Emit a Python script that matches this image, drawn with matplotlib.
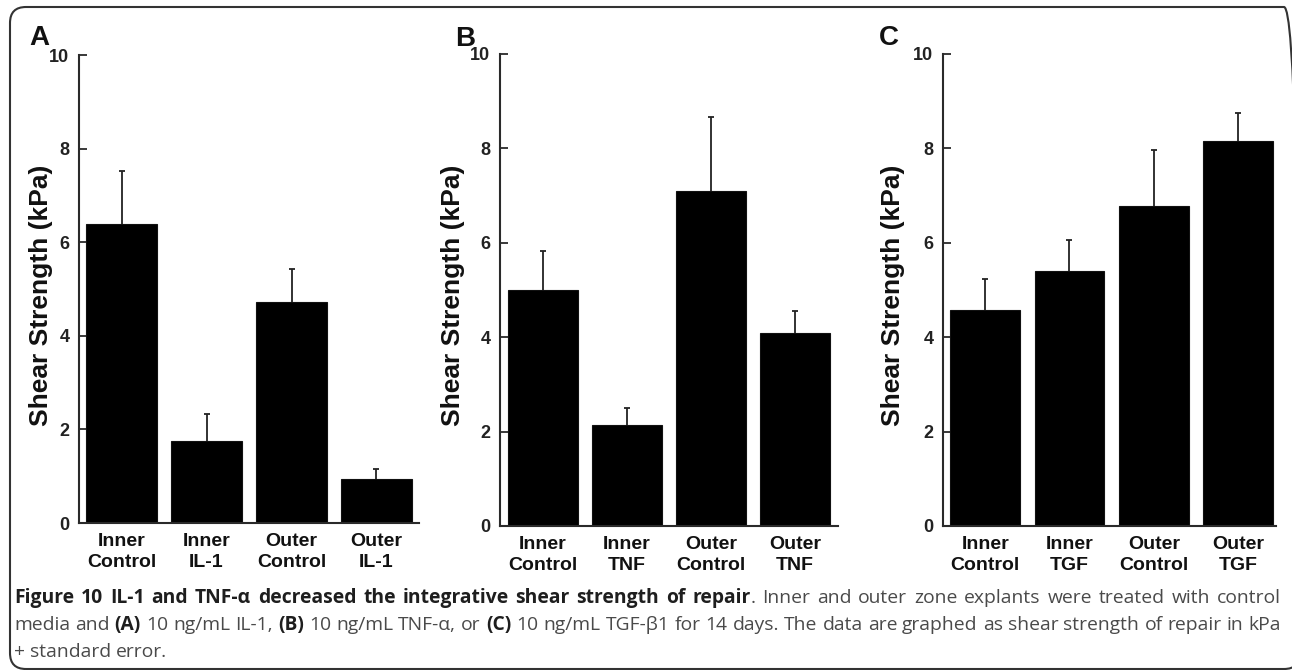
import matplotlib
matplotlib.use("Agg")
import matplotlib.pyplot as plt
from matplotlib.patches import FancyBboxPatch
from matplotlib.transforms import IdentityTransform
import numpy as np

# ---------------- data ----------------
labels_A = ["Inner\nControl", "Inner\nIL-1", "Outer\nControl", "Outer\nIL-1"]
mean_A = [6.38, 1.75, 4.73, 0.94]
err_top_A = [7.53, 2.32, 5.42, 1.16]

labels_B = ["Inner\nControl", "Inner\nTNF", "Outer\nControl", "Outer\nTNF"]
mean_B = [5.01, 2.14, 7.10, 4.09]
err_top_B = [5.83, 2.50, 8.66, 4.55]

labels_C = ["Inner\nControl", "Inner\nTGF", "Outer\nControl", "Outer\nTGF"]
mean_C = [4.58, 5.40, 6.79, 8.16]
err_top_C = [5.23, 6.06, 7.96, 8.74]

panel_letters = ["A", "B", "C"]
y_ticks = [0, 2, 4, 6, 8, 10]
y_label = "Shear Strength (kPa)"

W, H = 1292, 670
fig = plt.figure(figsize=(W / 100, H / 100), dpi=100)
fig.patch.set_facecolor("white")

ARIAL = ["Liberation Sans", "DejaVu Sans"]
SPINE = "#2a2a2a"

def px_rect(left, right, top, bottom):
    return [left / W, (H - bottom) / H, (right - left) / W, (bottom - top) / H]

panels = [
    dict(rect=px_rect(79, 419, 55, 523), xlim=(-0.5, 3.5), labels=labels_A,
         mean=mean_A, top=err_top_A, letter_xy=(29, 45), ylab_x=41),
    dict(rect=px_rect(500, 838, 54, 526), xlim=(-0.51, 3.51), labels=labels_B,
         mean=mean_B, top=err_top_B, letter_xy=(455, 46), ylab_x=453),
    dict(rect=px_rect(943, 1276, 54, 526), xlim=(-0.5, 3.45), labels=labels_C,
         mean=mean_C, top=err_top_C, letter_xy=(879, 45), ylab_x=893),
]

for i, p in enumerate(panels):
    ax = fig.add_axes(p["rect"])
    x = np.arange(len(p["mean"]))
    mean = np.array(p["mean"])
    top = np.array(p["top"])
    ax.bar(x, mean, width=0.825, color="black", edgecolor="#111111",
           linewidth=0.8, zorder=2)
    # upper-only error bars
    ax.vlines(x, mean, top, colors="#222222", linewidth=1.3, zorder=3)
    ax.plot(x, top, linestyle="none", marker="_", markersize=4.5,
            markeredgewidth=1.3, color="#222222", zorder=3)
    ax.set_xlim(*p["xlim"])
    ax.set_ylim(0, 10)
    ax.set_yticks(y_ticks)
    ax.set_yticklabels([str(t) for t in y_ticks], fontsize=13,
                       fontweight="bold", family=ARIAL, color="#222222")
    ax.set_xticks(x)
    ax.set_xticklabels(p["labels"], fontsize=14, fontweight="bold",
                       family=ARIAL, color="#111111", linespacing=1.32)
    ax.tick_params(axis="y", direction="in", length=6, width=1.3,
                   color=SPINE, pad=7)
    ax.tick_params(axis="x", length=0, pad=7)
    for s in ["top", "right"]:
        ax.spines[s].set_visible(False)
    for s in ["left", "bottom"]:
        ax.spines[s].set_linewidth(1.5)
        ax.spines[s].set_color(SPINE)
    ax.set_facecolor("none")
    # y label
    fig.text(p["ylab_x"] / W, 1 - 295 / H, y_label, rotation=90,
             ha="center", va="center", fontsize=19, fontweight="bold",
             family=ARIAL, color="#111111")
    # panel letter
    lx, ly = p["letter_xy"]
    fig.text(lx / W, 1 - ly / H, panel_letters[i], ha="left",
             va="baseline", fontsize=20, fontweight="bold", family=ARIAL,
             color="#111111")

# ---------------- frame ----------------
frame = FancyBboxPatch((10, H - 669), 1290, 662,
                       boxstyle="round,pad=0,rounding_size=16",
                       transform=IdentityTransform(), facecolor="none",
                       edgecolor="#333333", linewidth=1.5, zorder=0)
fig.patches.append(frame)

# ---------------- caption ----------------
CAP = ["Open Sans", "DejaVu Sans"]
BOLD_C = "#1e1e1e"
REG_C = "#4a4a4a"
B, R = "bold", "normal"
X0, X1 = 14, 1281

line1 = [[("Figure", B)], [("10", B)], [("IL-1", B)], [("and", B)],
         [("TNF-α", B)], [("decreased", B)], [("the", B)], [("integrative", B)],
         [("shear", B)], [("strength", B)], [("of", B)],
         [("repair", B), (".", R)], [("Inner", R)], [("and", R)], [("outer", R)],
         [("zone", R)], [("explants", R)], [("were", R)], [("treated", R)],
         [("with", R)], [("control", R)]]
line2_words = ("media and |(A)| 10 ng/mL IL-1, |(B)| 10 ng/mL TNF-α, or |(C)| "
               "10 ng/mL TGF-β1 for 14 days. The data are graphed as shear "
               "strength of repair in kPa")
line2 = []
for chunk_i, chunk in enumerate(line2_words.split("|")):
    w = B if chunk_i % 2 == 1 else R
    for word in chunk.split():
        line2.append([(word, w)])
line3 = [[(w, R)] for w in "+ standard error.".split()]

renderer = fig.canvas.get_renderer()

def measure(s, weight, size):
    t = fig.text(0, 0, s, fontsize=size, fontweight=weight, family=CAP)
    bb = t.get_window_extent(renderer=renderer)
    t.remove()
    return bb.width

def natural_width(tokens, size):
    sp = measure("a a", R, size) - measure("aa", R, size)
    tw = sum(measure(s, w, size) for tok in tokens for s, w in tok)
    return tw + sp * (len(tokens) - 1)

base = 12.0
scale = min((X1 - X0) / natural_width(line1, base),
            (X1 - X0) / natural_width(line2, base))
CAP_SIZE = base * scale * 0.995

def draw_line(tokens, baseline_px, x0=X0, x1=X1, justify=True):
    widths = [[measure(s, w, CAP_SIZE) for s, w in tok] for tok in tokens]
    tok_w = [sum(w) for w in widths]
    n_gaps = len(tokens) - 1
    if justify and n_gaps > 0:
        gap = (x1 - x0 - sum(tok_w)) / n_gaps
    else:
        gap = measure("a a", R, CAP_SIZE) - measure("aa", R, CAP_SIZE)
    x = x0
    y = 1 - baseline_px / H
    for tok, ws in zip(tokens, widths):
        xx = x
        for (s, w), ww in zip(tok, ws):
            fig.text(xx / W, y, s, fontsize=CAP_SIZE, fontweight=w, family=CAP,
                     color=BOLD_C if w == B else REG_C, va="baseline",
                     ha="left")
            xx += ww
        x += sum(ws) + gap

draw_line(line1, 603)
draw_line(line2, 630)
draw_line(line3, 657, justify=False)

fig.savefig("out.png", dpi=100, facecolor="white")
